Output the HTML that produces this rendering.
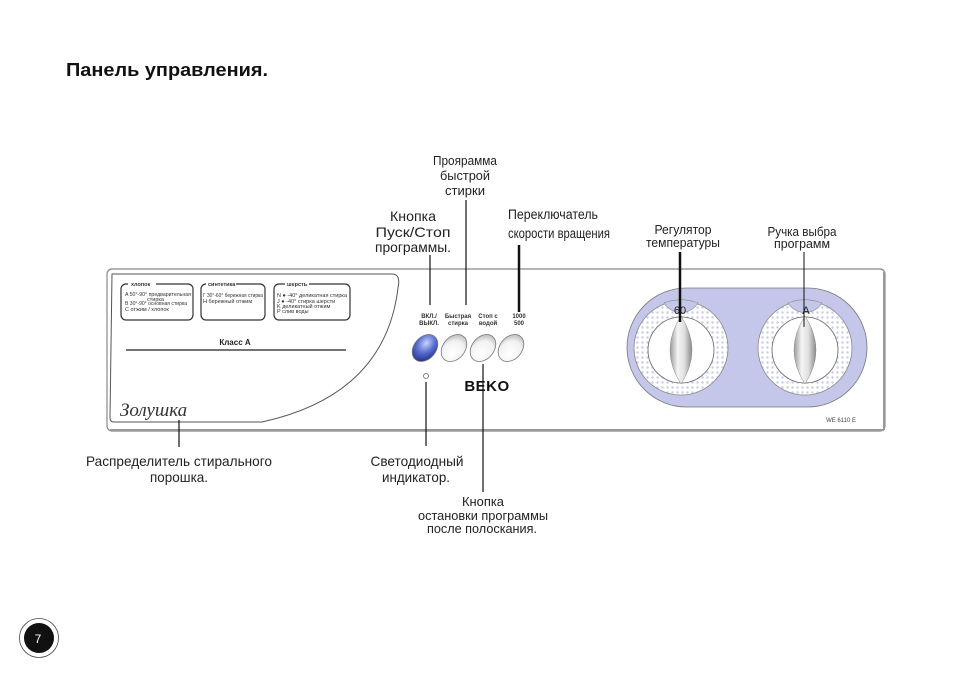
<!DOCTYPE html>
<html><head><meta charset="utf-8"><style>
html,body{margin:0;padding:0;background:#fff;width:954px;height:679px;overflow:hidden}
svg{display:block}
text{font-family:"Liberation Sans",sans-serif}
</style></head><body>
<svg width="954" height="679" viewBox="0 0 954 679" xmlns="http://www.w3.org/2000/svg">
<defs>
<pattern id="dots" width="5" height="5" patternUnits="userSpaceOnUse">
<rect width="5" height="5" fill="#fff"/><circle cx="2.5" cy="2.5" r="1.2" fill="#c8cbe8"/></pattern>
<linearGradient id="knob" x1="0" x2="1" y1="0" y2="0">
<stop offset="0" stop-color="#9a9a9a"/><stop offset="0.35" stop-color="#f4f4f4"/><stop offset="0.65" stop-color="#e0e0e0"/><stop offset="1" stop-color="#8a8a8a"/></linearGradient>
<radialGradient id="blue" cx="0.4" cy="0.35" r="0.7"><stop offset="0" stop-color="#c8d4ff"/><stop offset="0.5" stop-color="#5a70d0"/><stop offset="1" stop-color="#24308a"/></radialGradient>
<radialGradient id="grey" cx="0.6" cy="0.7" r="0.8"><stop offset="0" stop-color="#fff"/><stop offset="0.6" stop-color="#f2f2f2"/><stop offset="1" stop-color="#aaa"/></radialGradient>
</defs>

<text x="66" y="76" font-weight="bold" font-size="18" fill="#111" textLength="202" lengthAdjust="spacingAndGlyphs">Панель управления.</text>

<g font-size="13" text-anchor="middle" fill="#222">
<text x="465" y="165" textLength="64" lengthAdjust="spacingAndGlyphs">Проярамма</text>
<text x="465" y="180" textLength="50" lengthAdjust="spacingAndGlyphs">быстрой</text>
<text x="465" y="195" textLength="40" lengthAdjust="spacingAndGlyphs">стирки</text>
<text x="413" y="221" font-size="14" textLength="46" lengthAdjust="spacingAndGlyphs">Кнопка</text>
<text x="413" y="237" font-size="14" textLength="75" lengthAdjust="spacingAndGlyphs">Пуск/Стоп</text>
<text x="413" y="252" font-size="14" textLength="76" lengthAdjust="spacingAndGlyphs">программы.</text>
<text x="553" y="219" font-size="13.5" textLength="90" lengthAdjust="spacingAndGlyphs">Переключатель</text>
<text x="559" y="238" font-size="13.5" textLength="102" lengthAdjust="spacingAndGlyphs">скорости вращения</text>
<text x="683" y="234" font-size="12.5" textLength="57" lengthAdjust="spacingAndGlyphs">Регулятор</text>
<text x="683" y="247" font-size="12.5" textLength="74" lengthAdjust="spacingAndGlyphs">температуры</text>
<text x="802" y="236" font-size="12.5" textLength="69" lengthAdjust="spacingAndGlyphs">Ручка выбра</text>
<text x="802" y="248" font-size="12.5" textLength="56" lengthAdjust="spacingAndGlyphs">программ</text>
</g>

<rect x="107" y="269" width="778" height="162" rx="5" fill="#fff" stroke="#888" stroke-width="1.2"/>
<line x1="110" y1="430" x2="884" y2="430" stroke="#999" stroke-width="2"/>
<line x1="884" y1="272" x2="884" y2="430" stroke="#999" stroke-width="2"/>
<path d="M112 274 L392 274 Q401 274 398 288 Q385 395 262 422 L114 422 Q110 422 110 418 Z" fill="#fff" stroke="#555" stroke-width="1"/>

<g fill="none" stroke="#333" stroke-width="1.2">
<rect x="121" y="284" width="72" height="36" rx="5"/>
<rect x="201" y="284" width="64" height="36" rx="5"/>
<rect x="274" y="284" width="76" height="36" rx="5"/>
</g>
<g font-size="5.5" fill="#333">
<rect x="128" y="281" width="28" height="6" fill="#fff"/><text x="131" y="286" font-weight="bold">хлопок</text>
<rect x="206" y="281" width="30" height="6" fill="#fff"/><text x="208" y="286" font-weight="bold">синтетика</text>
<rect x="285" y="281" width="24" height="6" fill="#fff"/><text x="287" y="286" font-weight="bold">шерсть</text>
<text x="125" y="296" textLength="66" lengthAdjust="spacingAndGlyphs">A 50°-90° предварительная</text><text x="147" y="301">стирка</text>
<text x="125" y="305" textLength="62" lengthAdjust="spacingAndGlyphs">B 30°-90° основная стирка</text><text x="125" y="311">C        отжим / хлопок</text>
<text x="203" y="297" textLength="60" lengthAdjust="spacingAndGlyphs">Г 30°-60° бережная стирка</text><text x="203" y="303">H          бережный отжим</text>
<text x="277" y="297" textLength="70" lengthAdjust="spacingAndGlyphs">N ● -40° деликатная стирка</text><text x="277" y="303"> J ● -40° стирка шерсти</text>
<text x="277" y="308">K           деликатный отжим</text><text x="277" y="313">P           слив воды</text>
</g>
<text x="235" y="345" font-size="8" font-weight="bold" text-anchor="middle" fill="#222">Класс А</text>
<line x1="126" y1="350" x2="346" y2="350" stroke="#222" stroke-width="1.2"/>
<text x="120" y="416" font-size="19" font-style="italic" style="font-family:'Liberation Serif',serif" fill="#333">Золушка</text>

<g font-size="6" font-weight="bold" text-anchor="middle" fill="#333">
<text x="429" y="318">ВКЛ./</text><text x="429" y="325">ВЫКЛ.</text>
<text x="458" y="318">Быстрая</text><text x="458" y="325">стирка</text>
<text x="488" y="318">Стоп с</text><text x="488" y="325">водой</text>
<text x="519" y="318">1000</text><text x="519" y="325">500</text>
</g>
<g stroke="#777" stroke-width="0.8">
<ellipse cx="425" cy="348" rx="11" ry="15" transform="rotate(40 425 348)" fill="url(#blue)"/>
<ellipse cx="454" cy="348" rx="11" ry="15" transform="rotate(40 454 348)" fill="url(#grey)"/>
<ellipse cx="483" cy="348" rx="11" ry="15" transform="rotate(40 483 348)" fill="url(#grey)"/>
<ellipse cx="511" cy="348" rx="11" ry="15" transform="rotate(40 511 348)" fill="url(#grey)"/>
</g>
<circle cx="426" cy="376" r="2.5" fill="#fff" stroke="#666" stroke-width="0.8"/>
<text x="487" y="391" font-size="15" font-weight="900" text-anchor="middle" letter-spacing="0.5" fill="#111">BEKO</text>

<rect x="627" y="288" width="240" height="119" rx="59.5" fill="#c4c6ea" stroke="#777" stroke-width="0.8"/>
<g stroke="#888" stroke-width="0.8">
<circle cx="681" cy="348" r="47" fill="url(#dots)"/>
<circle cx="805" cy="348" r="47" fill="url(#dots)"/>
</g>
<path d="M664 303 A47 47 0 0 1 698 303 A20 20 0 0 1 664 303Z" fill="#c4c6ea" stroke="#888" stroke-width="0.6"/>
<path d="M788 303 A47 47 0 0 1 822 303 A20 20 0 0 1 788 303Z" fill="#c4c6ea" stroke="#888" stroke-width="0.6"/>
<text x="680" y="314" font-size="11" text-anchor="middle" fill="#222">60</text>
<text x="806" y="314" font-size="11" text-anchor="middle" fill="#222">A</text>
<g stroke="#666" stroke-width="0.8" fill="#fff">
<circle cx="681" cy="350" r="33"/><circle cx="805" cy="350" r="33"/>
</g>
<path d="M681 316 Q703 350 681 384 Q659 350 681 316Z" fill="url(#knob)" stroke="#888" stroke-width="0.5"/>
<path d="M805 316 Q827 350 805 384 Q783 350 805 316Z" fill="url(#knob)" stroke="#888" stroke-width="0.5"/>
<text x="856" y="422" font-size="6" text-anchor="end" fill="#444">WE 6110 E</text>

<g stroke="#111">
<line x1="430" y1="255" x2="430" y2="305" stroke-width="1.2"/>
<line x1="466" y1="200" x2="466" y2="305" stroke-width="1.2"/>
<line x1="519" y1="245" x2="519" y2="312" stroke-width="2.5"/>
<line x1="680" y1="252" x2="680" y2="322" stroke-width="2.5"/>
<line x1="804" y1="252" x2="804" y2="327" stroke-width="1"/>
<line x1="179" y1="420" x2="179" y2="447" stroke-width="1.2"/>
<line x1="426" y1="382" x2="426" y2="446" stroke-width="1.2"/>
<line x1="483" y1="364" x2="483" y2="492" stroke-width="1.2"/>
</g>

<g text-anchor="middle" fill="#222">
<text x="179" y="466" font-size="14" textLength="186" lengthAdjust="spacingAndGlyphs">Распределитель стирального</text>
<text x="179" y="482" font-size="14" textLength="58" lengthAdjust="spacingAndGlyphs">порошка.</text>
<text x="417" y="466" font-size="14" textLength="93" lengthAdjust="spacingAndGlyphs">Светодиодный</text>
<text x="416" y="482" font-size="14" textLength="68" lengthAdjust="spacingAndGlyphs">индикатор.</text>
<text x="483" y="506" font-size="12.5" textLength="42" lengthAdjust="spacingAndGlyphs">Кнопка</text>
<text x="483" y="520" font-size="12.5" textLength="130" lengthAdjust="spacingAndGlyphs">остановки  программы</text>
<text x="482" y="533" font-size="12.5" textLength="110" lengthAdjust="spacingAndGlyphs">после  полоскания.</text>
</g>

<circle cx="39" cy="638" r="19.5" fill="none" stroke="#444" stroke-width="0.8"/>
<circle cx="39" cy="638" r="15" fill="#111"/>
<text x="38" y="643" font-size="12" text-anchor="middle" style="fill:#fff">7</text>
</svg>
</body></html>
